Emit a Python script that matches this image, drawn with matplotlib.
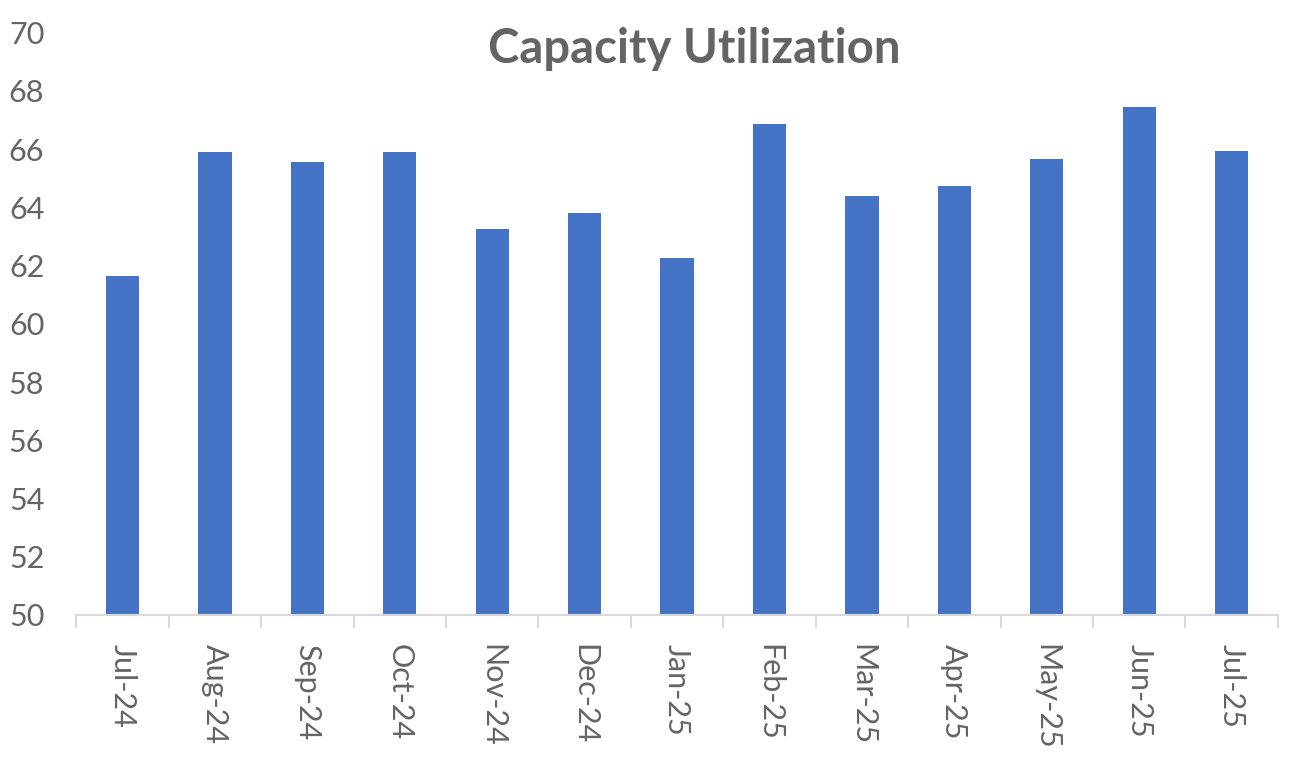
import matplotlib
matplotlib.use("Agg")
import matplotlib.pyplot as plt
import numpy as np

months = ["Jul-24", "Aug-24", "Sep-24", "Oct-24", "Nov-24", "Dec-24", "Jan-25",
          "Feb-25", "Mar-25", "Apr-25", "May-25", "Jun-25", "Jul-25"]
utilization = [61.65, 65.9, 65.55, 65.9, 63.25, 63.8, 62.25,
               66.85, 64.4, 64.75, 65.65, 67.45, 65.95]

plt.rcParams['font.family'] = ['Lato', 'DejaVu Sans']
text_color = "#646464"

fig = plt.figure(figsize=(12.92, 7.61), dpi=100)
ax = fig.add_axes([0.059, 0.192, 0.93, 0.765])

x = np.arange(len(months))
ax.bar(x, utilization, width=0.36, color="#4472C4", zorder=2)

ax.set_ylim(50, 70)
ax.set_xlim(-0.5, len(months) - 0.5)
ax.set_yticks(range(50, 71, 2))
ax.tick_params(axis='y', length=0, pad=23, labelsize=22, labelcolor=text_color)

# category labels between the boundary ticks
ax.set_xticks(x)
ax.set_xticklabels(months, rotation=-90, fontsize=22, color=text_color)
ax.tick_params(axis='x', which='major', length=0, pad=21)
ax.set_xticks(np.arange(-0.5, len(months)), minor=True)
ax.tick_params(axis='x', which='minor', length=9, width=1.5, color="#d9d9d9")

for s in ['top', 'right', 'left']:
    ax.spines[s].set_visible(False)
ax.spines['bottom'].set_color("#d9d9d9")
ax.spines['bottom'].set_linewidth(1.5)

fig.text(0.537, 0.935, "Capacity Utilization", ha='center', va='center',
         fontsize=34, fontweight='bold', color=text_color)

plt.savefig("out.png", dpi=100)
